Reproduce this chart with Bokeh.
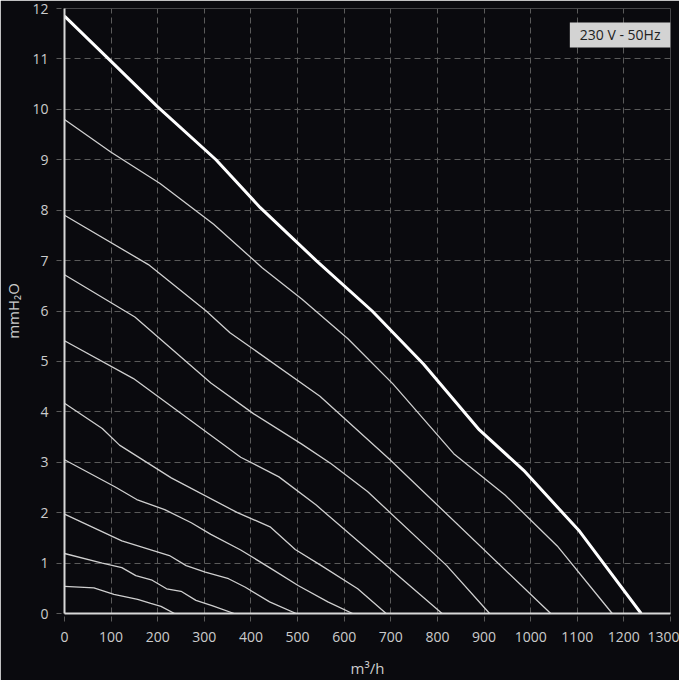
from bokeh.plotting import figure
from bokeh.models import FixedTicker, Label
from bokeh.embed import file_html
from bokeh.resources import INLINE

# ---- data ----
x_ticks = list(range(0, 1301, 100))
y_ticks = list(range(0, 13))

max_x = [0, 100, 200, 325, 420, 540, 660, 770, 890, 985, 1105, 1237]
max_y = [11.85, 10.95, 10.05, 9.0, 8.05, 7.0, 6.0, 4.95, 3.64, 2.84, 1.63, 0]

c1_x = [0, 100, 205, 320, 424, 509, 608, 705, 835, 945, 1057, 1175]
c1_y = [9.8, 9.15, 8.53, 7.72, 6.86, 6.24, 5.45, 4.55, 3.17, 2.35, 1.34, 0]

c2_x = [0, 180, 304, 355, 548, 696, 1043]
c2_y = [7.9, 6.92, 6.0, 5.57, 4.31, 3.07, 0]

c3_x = [0, 151, 314, 406, 509, 572, 650, 820, 912]
c3_y = [6.72, 5.88, 4.57, 3.96, 3.36, 2.97, 2.42, 0.95, 0]

c4_x = [0, 148, 378, 460, 540, 810]
c4_y = [5.41, 4.66, 3.1, 2.71, 2.15, 0]

c5_x = [0, 81, 118, 229, 371, 441, 495, 551, 629, 690]
c5_y = [4.17, 3.67, 3.34, 2.69, 2.0, 1.72, 1.27, 0.95, 0.49, 0]

c6_x = [0, 109, 155, 215, 272, 314, 378, 445, 502, 565, 618]
c6_y = [3.05, 2.51, 2.26, 2.06, 1.8, 1.57, 1.26, 0.88, 0.55, 0.23, 0]

c7_x = [0, 123, 225, 261, 302, 352, 388, 440, 497]
c7_y = [1.97, 1.44, 1.15, 0.95, 0.82, 0.69, 0.52, 0.23, 0]

c8_x = [0, 81, 123, 153, 188, 219, 250, 282, 318, 364]
c8_y = [1.19, 1.0, 0.91, 0.75, 0.66, 0.49, 0.44, 0.26, 0.15, 0]

c9_x = [0, 63, 106, 157, 185, 207, 236]
c9_y = [0.54, 0.51, 0.38, 0.28, 0.2, 0.14, 0]

thin_curves = [(c1_x, c1_y), (c2_x, c2_y), (c3_x, c3_y), (c4_x, c4_y), (c5_x, c5_y),
               (c6_x, c6_y), (c7_x, c7_y), (c8_x, c8_y), (c9_x, c9_y)]

x_label = "m³/h"
y_label = "mmH₂O"
badge_text = "230 V - 50Hz"

# ---- styling ----
BG = "#0a0a0e"
FONT = "Open Sans"

p = figure(width=679, height=680,
           x_range=(0, 1300), y_range=(0, 12),
           output_backend="svg", toolbar_location=None,
           background_fill_color=BG, border_fill_color=BG,
           outline_line_color=None,
           min_border_left=57, min_border_right=9, min_border_top=8, min_border_bottom=66)

for ax in (p.xaxis[0], p.yaxis[0]):
    ax.axis_line_color = "#d8d8d8"
    ax.axis_line_width = 2
    ax.major_tick_line_color = "#5a5a5a"
    ax.major_tick_line_dash = "5 3"
    ax.major_tick_in = 0
    ax.major_tick_out = 8
    ax.minor_tick_line_color = None
    ax.major_label_text_color = "#cccccc"
    ax.major_label_text_font = FONT
    ax.major_label_text_font_size = "14px"
    ax.axis_label_text_color = "#cccccc"
    ax.axis_label_text_font = FONT
    ax.axis_label_text_font_size = "15px"
    ax.axis_label_text_font_style = "normal"

p.xaxis.ticker = FixedTicker(ticks=x_ticks)
p.yaxis.ticker = FixedTicker(ticks=y_ticks)
p.xaxis.axis_label = x_label
p.yaxis.axis_label = y_label
p.xaxis.major_label_standoff = 10
p.yaxis.major_label_standoff = 8
p.xaxis.axis_label_standoff = 13
p.yaxis.axis_label_standoff = 6

for g in (p.xgrid[0], p.ygrid[0]):
    g.grid_line_color = "#5a5a5a"
    g.grid_line_dash = "6 4"
    g.grid_line_width = 1
p.xgrid.ticker = FixedTicker(ticks=x_ticks)
p.ygrid.ticker = FixedTicker(ticks=y_ticks)

for cx, cy in thin_curves:
    p.line(cx, cy, line_color="#cfcfcf", line_width=1.3)
p.line(max_x, max_y, line_color="#ffffff", line_width=3)

badge = Label(x=1300, y=11.475, text=badge_text, text_align="right", text_baseline="middle",
              text_font=FONT, text_font_size="14px", text_color="#222222",
              background_fill_color="#d3d3d3", padding=(10, 3))
p.add_layout(badge)

html = file_html(p, INLINE)
html = html.replace("<body>", '<body style="background-color:%s;">' % BG, 1)
open("out.html", "w").write(html)
